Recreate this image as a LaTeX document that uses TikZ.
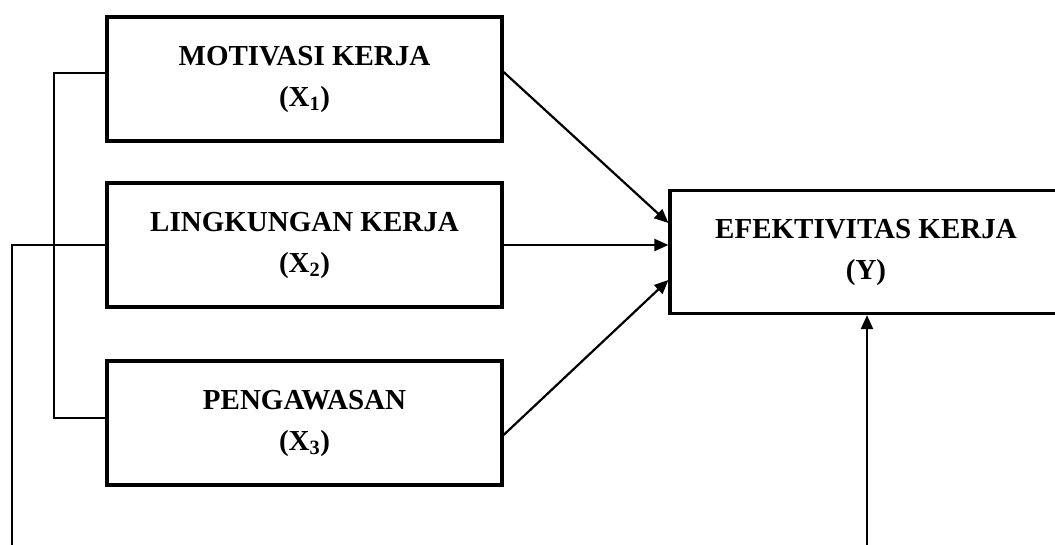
\documentclass[tikz,border=0pt]{standalone}
\usepackage{fontspec}
\setmainfont{Liberation Serif}
\usetikzlibrary{arrows.meta}
\begin{document}
\begin{tikzpicture}[x=1pt,y=-1pt,
  varbox/.style={draw, line width=3.2pt, inner sep=0pt, align=center,
    minimum width=395pt, minimum height=124pt,
    font=\fontsize{29}{41}\selectfont\bfseries},
  arr/.style={line width=2.2pt, -{Triangle[length=14pt,width=12pt]}},
  link/.style={line width=1.3pt}]
\clip (0,0) rectangle (1055,544);
\fill[white] (0,0) rectangle (1055,544);
\node[varbox] (x1) at (304.5,79) {MOTIVASI KERJA\\(X\textsubscript{1})};
\node[varbox] (x2) at (304.5,245) {LINGKUNGAN KERJA\\(X\textsubscript{2})};
\node[varbox] (x3) at (304.5,423) {PENGAWASAN\\(X\textsubscript{3})};
\node[varbox, minimum width=392pt, minimum height=123pt] (y) at (866,252) {EFEKTIVITAS KERJA\\(Y)};
% left connectors
\coordinate (a1) at (54,73);
\coordinate (a3) at (54,418);
\draw[link] (x1.west |- a1) -- (a1) -- (a3) -- (x3.west |- a3);
\coordinate (b1) at (12,245);
\coordinate (b2) at (12,560);
\draw[link] (x2.west) -- (b1) -- (b2);
% arrows into Y
\draw[arr] ([yshift=7pt]x1.east) -- ([yshift=29pt]y.west);
\draw[arr] (x2.east) -- ([yshift=7pt]y.west);
\draw[arr] ([yshift=-12pt]x3.east) -- ([yshift=-28pt]y.west);
\coordinate (c) at (867,560);
\draw[arr] (c) -- (c |- y.south);
\end{tikzpicture}
\end{document}
